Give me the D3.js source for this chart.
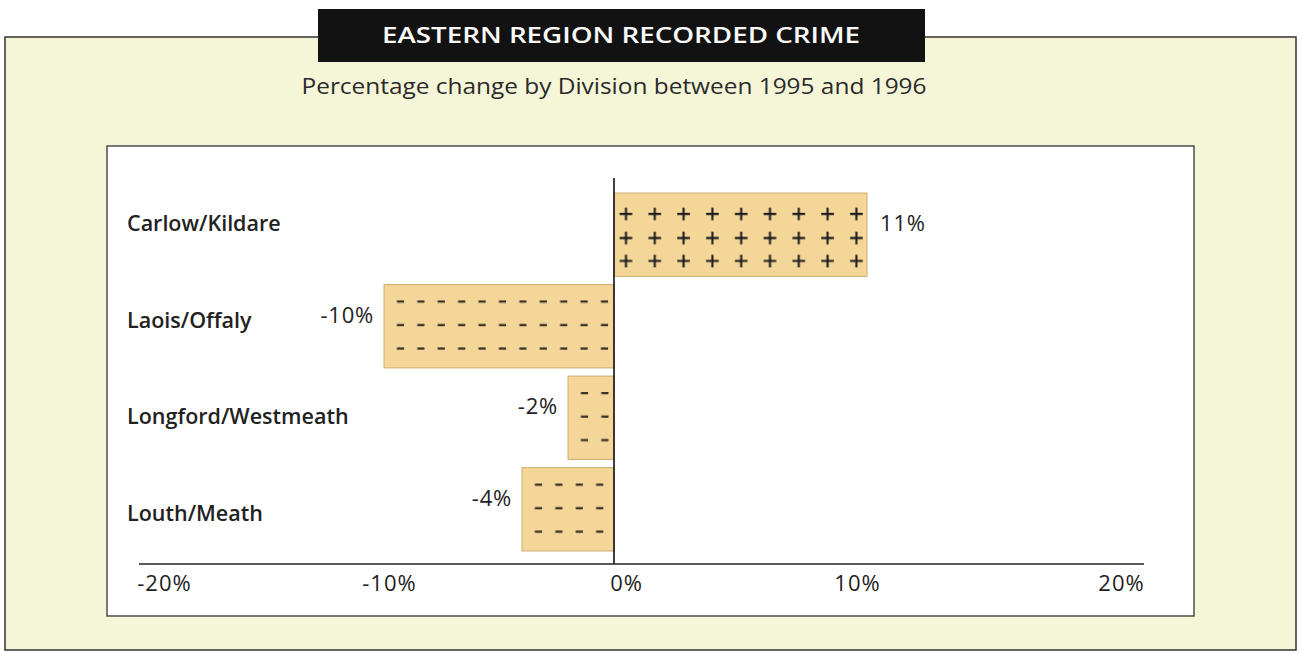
<!DOCTYPE html>
<html>
<head>
<meta charset="utf-8">
<script src="https://cdn.jsdelivr.net/npm/d3@7"></script>
<style>
  html, body { margin: 0; padding: 0; background: #ffffff; }
  svg { display: block; }
  text { font-family: "Open Sans", "DejaVu Sans", sans-serif; fill: #222; }
</style>
</head>
<body>
<script>
// chart data
var categories = ["Carlow/Kildare", "Laois/Offaly", "Longford/Westmeath", "Louth/Meath"];
var changes = [11, -10, -2, -4];
var valueLabels = ["11%", "-10%", "-2%", "-4%"];
var tickValues = [-20, -10, 0, 10, 20];
var title = "EASTERN REGION RECORDED CRIME";
var subtitle = "Percentage change by Division between 1995 and 1996";

var rows = categories.map(function (c, i) {
    return { name: c, value: changes[i], label: valueLabels[i] };
});

//Settings for canvas
var settings = {
    width: 1302,
    height: 654,
    outer: "#f5f6d8",
    barFill: "#f4d699",
    barStroke: "#c9ad70",
    ink: "#222"
}

var svg = d3.select("body").append("svg")
    .attr("width", settings.width)
    .attr("height", settings.height);

// outer frame
svg.append("rect")
    .attr("x", 5).attr("y", 37)
    .attr("width", 1291).attr("height", 613)
    .attr("fill", settings.outer)
    .attr("stroke", "#333").attr("stroke-width", 1.5);

// title block
svg.append("rect")
    .attr("x", 318).attr("y", 9)
    .attr("width", 607).attr("height", 53)
    .attr("fill", "#121212");

svg.append("text")
    .attr("x", 621).attr("y", 43)
    .attr("text-anchor", "middle")
    .attr("textLength", 478).attr("lengthAdjust", "spacingAndGlyphs")
    .style("font-size", "21px").style("font-weight", 600)
    .style("fill", "#fafafa")
    .text(title);

svg.append("text")
    .attr("x", 614).attr("y", 94)
    .attr("text-anchor", "middle")
    .attr("textLength", 625).attr("lengthAdjust", "spacingAndGlyphs")
    .style("font-size", "21px")
    .style("fill", "#2a2a2a")
    .text(subtitle);

// white plotting panel
svg.append("rect")
    .attr("x", 107).attr("y", 146)
    .attr("width", 1087).attr("height", 470)
    .attr("fill", "#ffffff")
    .attr("stroke", "#333").attr("stroke-width", 1.3);

//Scales
var x = d3.scaleLinear().domain([-20, 20]).range([154, 1074]);
// the printed tick labels sit a little off the bar scale, so they get their own (piecewise) scale
var xTicks = d3.scaleLinear().domain(tickValues).range([164, 389, 626, 857, 1121]);
var y = d3.scaleBand().domain(categories).range([193, 551]).paddingInner(0.09);
var yLabel = d3.scalePoint().domain(categories).range([231, 521]);

// one fill pattern per bar: a tile is one column of three marks
var defs = svg.append("defs");
var pats = defs.selectAll("pattern").data(rows).enter().append("pattern")
    .attr("id", function (d, i) { return "pat" + i; })
    .attr("patternUnits", "userSpaceOnUse")
    .attr("width", function (d) { return d.value >= 0 ? 28.8 : 20.4; })
    .attr("height", y.bandwidth())
    .attr("x", function (d) { return d.value >= 0 ? x(0) - 2.4 : x(d.value) + 6.5; })
    .attr("y", function (d) { return y(d.name); });

pats.append("rect")
    .attr("width", 30).attr("height", y.bandwidth())
    .attr("fill", settings.barFill);

pats.each(function (d) {
    var p = d3.select(this);
    var marks = d.value >= 0 ? [21, 45, 68] : [17, 40.5, 64];
    marks.forEach(function (my) {
        if (d.value >= 0) {
            p.append("path")
                .attr("d", "M8.1," + my + "H20.7M14.4," + (my - 6.3) + "V" + (my + 6.3))
                .attr("stroke", "#1c1c1c").attr("stroke-width", 2.1);
        } else {
            p.append("path")
                .attr("d", "M6.4," + my + "H13.6")
                .attr("stroke", "#3a3325").attr("stroke-width", 2.3);
        }
    });
});

//Bars
svg.append("g").selectAll("rect").data(rows).enter().append("rect")
    .attr("x", function (d) { return x(Math.min(0, d.value)); })
    .attr("y", function (d) { return y(d.name); })
    .attr("width", function (d) { return Math.abs(x(d.value) - x(0)); })
    .attr("height", y.bandwidth())
    .attr("fill", function (d, i) { return "url(#pat" + i + ")"; })
    .attr("stroke", settings.barStroke).attr("stroke-width", 1);

// zero line
svg.append("line")
    .attr("x1", x(0)).attr("x2", x(0))
    .attr("y1", 178).attr("y2", 564)
    .attr("stroke", "#111").attr("stroke-width", 1.6);

// value labels
svg.append("g").selectAll("text").data(rows).enter().append("text")
    .attr("x", function (d) { return d.value >= 0 ? x(d.value) + 13 : x(d.value) - 10; })
    .attr("y", function (d) { return y(d.name) + 38; })
    .attr("text-anchor", function (d) { return d.value >= 0 ? "start" : "end"; })
    .style("font-size", "22px").style("letter-spacing", "0.8px")
    .text(function (d) { return d.label; });

// division names
svg.append("g").selectAll("text").data(rows).enter().append("text")
    .attr("x", 127)
    .attr("y", function (d) { return yLabel(d.name); })
    .style("font-size", "21.5px").style("font-weight", 600)
    .text(function (d) { return d.name; });

//Axis
var axis = svg.append("g")
    .attr("transform", "translate(0,564)")
    .call(d3.axisBottom(xTicks).tickValues(tickValues).tickSize(0)
        .tickFormat(function (d) { return d + "%"; }));
axis.select(".domain").remove();
axis.selectAll("text")
    .attr("y", 27).attr("dy", 0)
    .style("font-size", "22px")
    .style("letter-spacing", "1px")
    .style("font-family", "'Open Sans', sans-serif")
    .attr("fill", settings.ink);

svg.append("line")
    .attr("x1", 139).attr("x2", 1144)
    .attr("y1", 564).attr("y2", 564)
    .attr("stroke", "#222").attr("stroke-width", 1.6);
</script>
</body>
</html>
